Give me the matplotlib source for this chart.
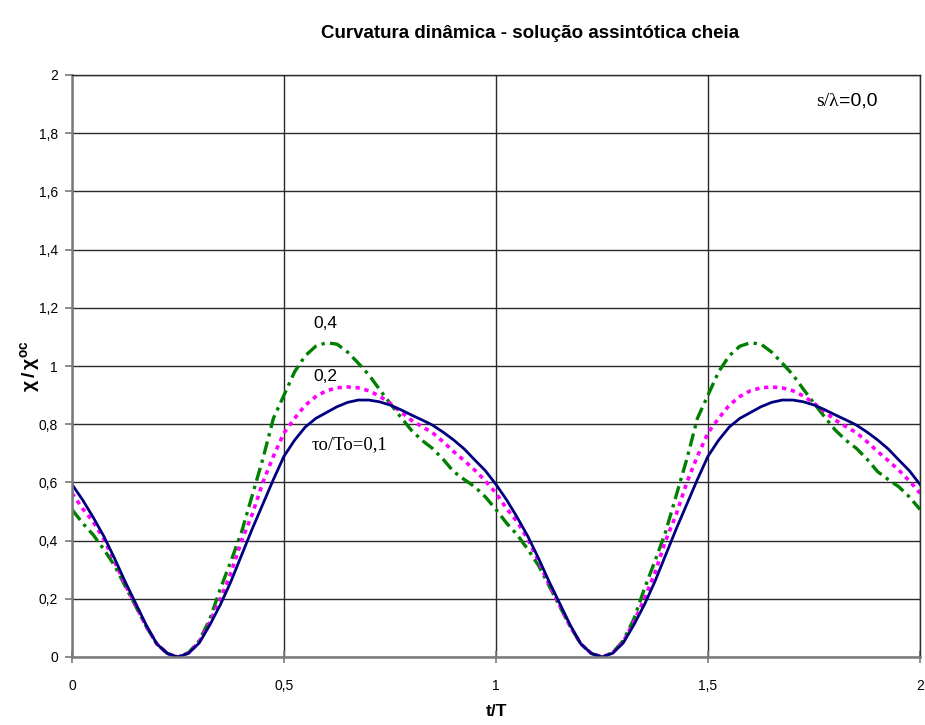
import numpy as np
import matplotlib
matplotlib.use("Agg")
import matplotlib.pyplot as plt

plt.rcParams['font.family'] = ['Liberation Sans', 'DejaVu Sans']
plt.rcParams['mathtext.fontset'] = 'custom'
plt.rcParams['mathtext.rm'] = 'Liberation Sans'
plt.rcParams['mathtext.bf'] = 'Liberation Sans:bold'

# one period of the normalised dynamic curvature (t/T from 0 to 1)
t_period = [0.000, 0.025, 0.050, 0.075, 0.100, 0.125, 0.150, 0.175, 0.200, 0.225,
            0.250, 0.275, 0.300, 0.325, 0.350, 0.375, 0.400, 0.425, 0.450, 0.475,
            0.500, 0.525, 0.550, 0.575, 0.600, 0.625, 0.650, 0.675, 0.700, 0.725,
            0.750, 0.775, 0.800, 0.825, 0.850, 0.875, 0.900, 0.925, 0.950, 0.975]

chi_01 = [0.593, 0.540, 0.480, 0.415, 0.340, 0.260, 0.185, 0.110, 0.045, 0.012,
          0.000, 0.013, 0.048, 0.110, 0.180, 0.260, 0.350, 0.440, 0.525, 0.610,
          0.690, 0.745, 0.790, 0.820, 0.840, 0.860, 0.875, 0.883, 0.883, 0.877,
          0.866, 0.850, 0.832, 0.815, 0.797, 0.773, 0.746, 0.715, 0.677, 0.640]

chi_02 = [0.563, 0.510, 0.465, 0.405, 0.330, 0.250, 0.178, 0.105, 0.045, 0.012,
          0.000, 0.014, 0.052, 0.120, 0.200, 0.290, 0.400, 0.490, 0.600, 0.690,
          0.770, 0.820, 0.865, 0.895, 0.915, 0.925, 0.928, 0.925, 0.915, 0.897,
          0.872, 0.843, 0.814, 0.792, 0.771, 0.740, 0.706, 0.675, 0.642, 0.605]

chi_04 = [0.507, 0.460, 0.420, 0.370, 0.315, 0.245, 0.175, 0.105, 0.045, 0.012,
          0.000, 0.015, 0.056, 0.130, 0.235, 0.330, 0.430, 0.555, 0.680, 0.820,
          0.900, 0.980, 1.035, 1.068, 1.080, 1.075, 1.048, 1.010, 0.970, 0.920,
          0.872, 0.825, 0.780, 0.745, 0.717, 0.680, 0.637, 0.610, 0.585, 0.550]

# two full periods, closing at t/T = 2
t = np.concatenate([t_period, np.array(t_period) + 1.0, [2.0]])
series = {
    '0,1': np.concatenate([chi_01, chi_01, [chi_01[0]]]),
    '0,2': np.concatenate([chi_02, chi_02, [chi_02[0]]]),
    '0,4': np.concatenate([chi_04, chi_04, [chi_04[0]]]),
}

x_ticks = [0, 0.5, 1, 1.5, 2]
x_ticklabels = ['0', '0,5', '1', '1,5', '2']
y_ticks = [0, 0.2, 0.4, 0.6, 0.8, 1.0, 1.2, 1.4, 1.6, 1.8, 2.0]
y_ticklabels = ['0', '0,2', '0,4', '0,6', '0,8', '1', '1,2', '1,4', '1,6', '1,8', '2']

fig = plt.figure(figsize=(9.25, 7.25), dpi=100)
ax = fig.add_axes([72 / 925, 68 / 725, 848 / 925, 582 / 725])

ax.set_xlim(0, 2)
ax.set_ylim(0, 2)
ax.set_xticks(x_ticks)
ax.set_xticklabels(x_ticklabels, fontsize=10)
ax.set_yticks(y_ticks)
ax.set_yticklabels(y_ticklabels, fontsize=10)
ax.grid(True, color='#2a2a2a', linewidth=1.0)
ax.set_axisbelow(True)

for side in ['top', 'right']:
    ax.spines[side].set_color('#2a2a2a')
    ax.spines[side].set_linewidth(1.0)
for side in ['left', 'bottom']:
    ax.spines[side].set_color('#7a7a7a')
    ax.spines[side].set_linewidth(1.8)

ax.tick_params(axis='y', direction='out', length=5, width=1.2, color='#7a7a7a', pad=5)
ax.tick_params(axis='x', direction='inout', length=8, width=1.2, color='#7a7a7a', pad=12)

ax.plot(t, series['0,4'], color='#008000', linewidth=2.4,
        dashes=(4, 1.6, 1, 1.6), dash_capstyle='butt')
ax.plot(t, series['0,2'], color='#FF00FF', linewidth=2.6,
        linestyle=(0, (1.2, 1.3)), dash_capstyle='butt')
ax.plot(t, series['0,1'], color='#000080', linewidth=2.0)

ax.text(0.57, 1.13, '0,4', fontsize=12.5)
ax.text(0.57, 0.95, '0,2', fontsize=12.5)
ax.text(0.565, 0.715, 'τo/To=0,1', fontsize=13.5, family=['Liberation Serif', 'DejaVu Serif'])

s_lbl = ax.text(1.755, 1.91, 's/λ', fontsize=14, va='center',
                family=['Liberation Serif', 'DejaVu Serif'])
ax.annotate('=0,0', xy=(1, 0.5), xycoords=s_lbl, va='center', ha='left', fontsize=14)

fig.text(530 / 925, 1 - 33 / 725, 'Curvatura dinâmica - solução assintótica cheia',
         ha='center', va='center', fontsize=13.5, fontweight='bold')
ax.set_xlabel('t/T', fontsize=12.5, fontweight='bold', labelpad=8)
fig.text(30 / 925, 1 - 366 / 725, r'$\mathbf{χ\,/\,χ^{oc}}$', rotation=90,
         ha='center', va='center', fontsize=14)

fig.savefig('out.png', dpi=100)
